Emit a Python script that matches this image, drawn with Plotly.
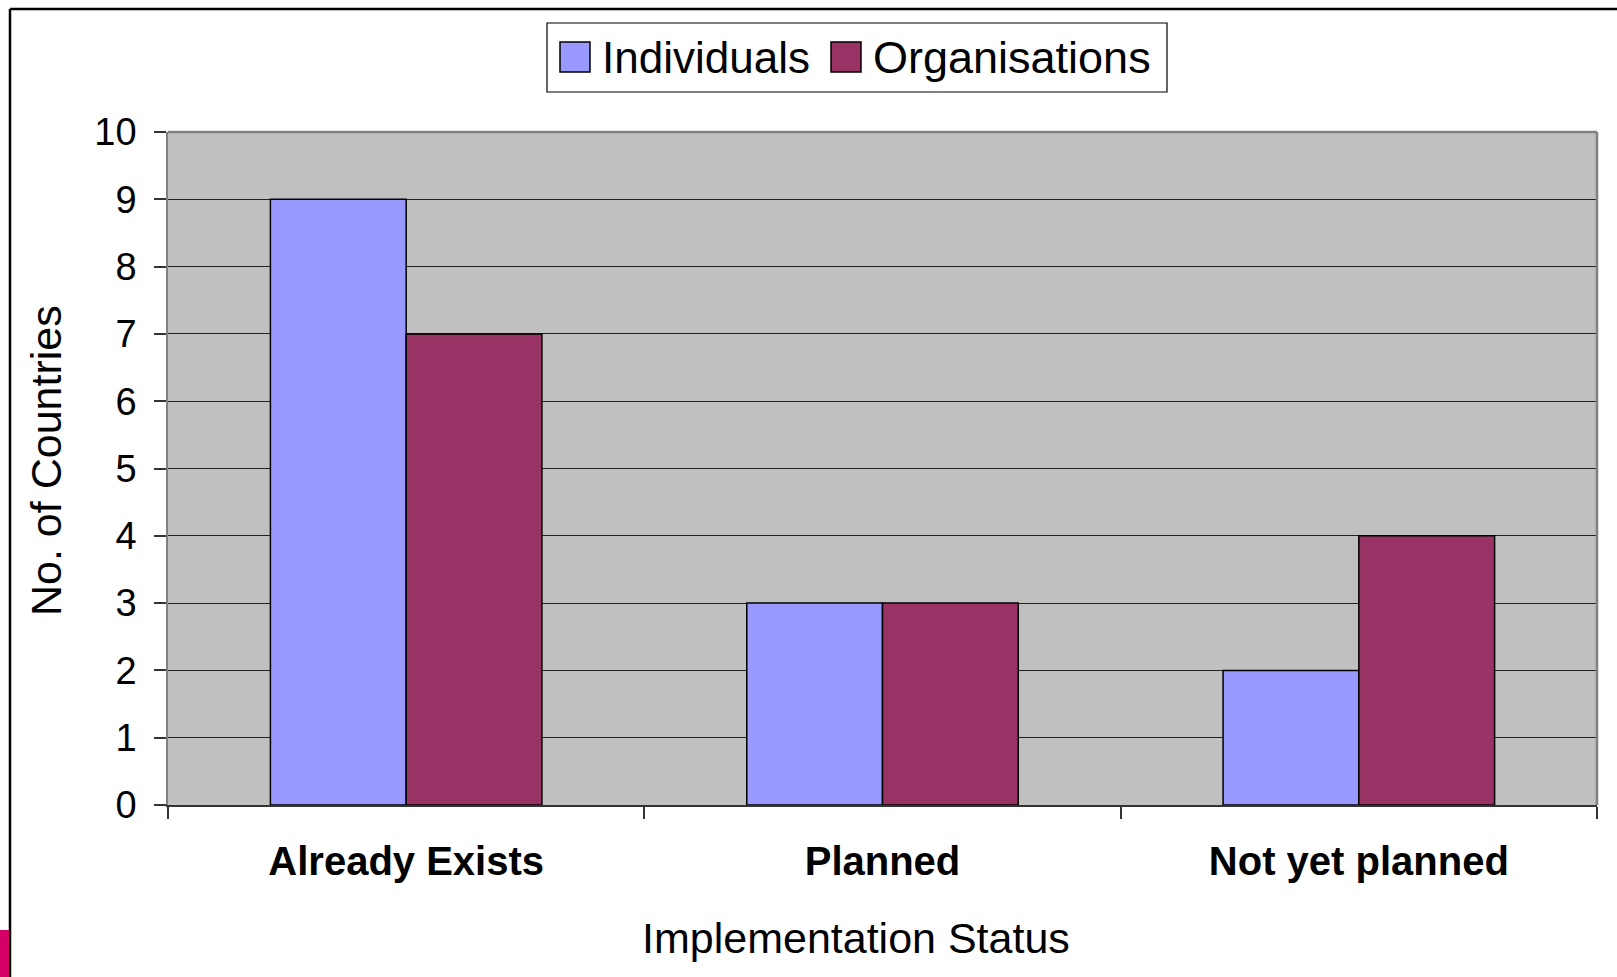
import plotly.graph_objects as go

categories = ["Already Exists", "Planned", "Not yet planned"]
individuals = [9, 3, 2]
organisations = [7, 3, 4]
series_names = ["Individuals", "Organisations"]
series_colors = ["#9999FF", "#993366"]
y_ticks = list(range(0, 11))

W, H = 1617, 977
L, R, T, B = 168, 1597, 132, 805  # plot area in pixels
pw, ph = R - L, B - T

def px(x):
    return (x - L) / pw

def py(y):
    return (B - y) / ph

FONT = "Liberation Sans, Arial, sans-serif"

fig = go.Figure()
for name, vals, col in zip(series_names, [individuals, organisations], series_colors):
    fig.add_trace(go.Bar(
        x=categories, y=vals, name=name,
        marker=dict(color=col, line=dict(color="black", width=1.5)),
        showlegend=False,
    ))

fig.update_layout(
    width=W, height=H,
    margin=dict(l=L, r=W - R, t=T, b=H - B, autoexpand=False),
    paper_bgcolor="white",
    plot_bgcolor="#C0C0C0",
    barmode="group",
    bargap=0.43,
    bargroupgap=0,
    font=dict(family=FONT, color="black"),
)

fig.update_xaxes(
    showgrid=False,
    showline=True, linecolor="#333333", linewidth=1.5,
    ticks="outside", tickson="boundaries", ticklen=12, tickcolor="#333333", tickwidth=1.5,
    tickfont=dict(size=40, family=FONT, weight="bold"),
    ticklabelstandoff=20,
)
fig.update_yaxes(
    range=[0, 10],
    tickvals=y_ticks,
    showgrid=True, gridcolor="#222222", gridwidth=1,
    zeroline=False,
    showline=True, linecolor="#808080", linewidth=1.5,
    ticks="outside", ticklen=12, tickcolor="#333333", tickwidth=1.5,
    tickfont=dict(size=38, family=FONT),
    ticklabelstandoff=10,
)

shapes = []
# plot area border (top / right gray)
shapes.append(dict(type="line", xref="paper", yref="paper", x0=0, x1=1, y0=1, y1=1,
                   line=dict(color="#808080", width=2.5)))
shapes.append(dict(type="line", xref="paper", yref="paper", x0=1, x1=1, y0=0, y1=1,
                   line=dict(color="#808080", width=2.5)))
# outer frame (left and top)
shapes.append(dict(type="line", xref="paper", yref="paper", x0=px(10), x1=px(10), y0=py(1000), y1=py(9),
                   line=dict(color="black", width=2.5)))
shapes.append(dict(type="line", xref="paper", yref="paper", x0=px(10), x1=px(1640), y0=py(9), y1=py(9),
                   line=dict(color="black", width=2.5)))
# pink corner mark
shapes.append(dict(type="rect", xref="paper", yref="paper", x0=px(-2), x1=px(9), y0=py(1000), y1=py(930),
                   fillcolor="#D40068", line=dict(width=0)))
# legend box
shapes.append(dict(type="rect", xref="paper", yref="paper", x0=px(547), x1=px(1167), y0=py(92), y1=py(23),
                   fillcolor="white", line=dict(color="black", width=1.2)))
# legend swatches
sw = [(560, 590), (831, 861)]
for (x0, x1), col in zip(sw, series_colors):
    shapes.append(dict(type="rect", xref="paper", yref="paper", x0=px(x0), x1=px(x1), y0=py(72), y1=py(42),
                       fillcolor=col, line=dict(color="black", width=1.5)))
fig.update_layout(shapes=shapes)

annotations = []
for xs, name, fs in zip([600, 871], series_names, [44, 45]):
    annotations.append(dict(xref="paper", yref="paper", x=px(xs), y=py(58), xanchor="left", yanchor="middle",
                            text=name, showarrow=False, font=dict(size=fs, family=FONT, color="black")))
annotations.append(dict(xref="paper", yref="paper", x=px(46), y=py(461), text="No. of Countries",
                        textangle=-90, showarrow=False, xanchor="center", yanchor="middle",
                        font=dict(size=43, family=FONT, color="black")))
annotations.append(dict(xref="paper", yref="paper", x=px(856), y=py(938), text="Implementation Status",
                        showarrow=False, xanchor="center", yanchor="middle",
                        font=dict(size=43, family=FONT, color="black")))
fig.update_layout(annotations=annotations)

fig.write_html("out.html", config={"displayModeBar": False},
               post_script="document.body.style.margin='0';document.body.style.overflow='hidden';")
